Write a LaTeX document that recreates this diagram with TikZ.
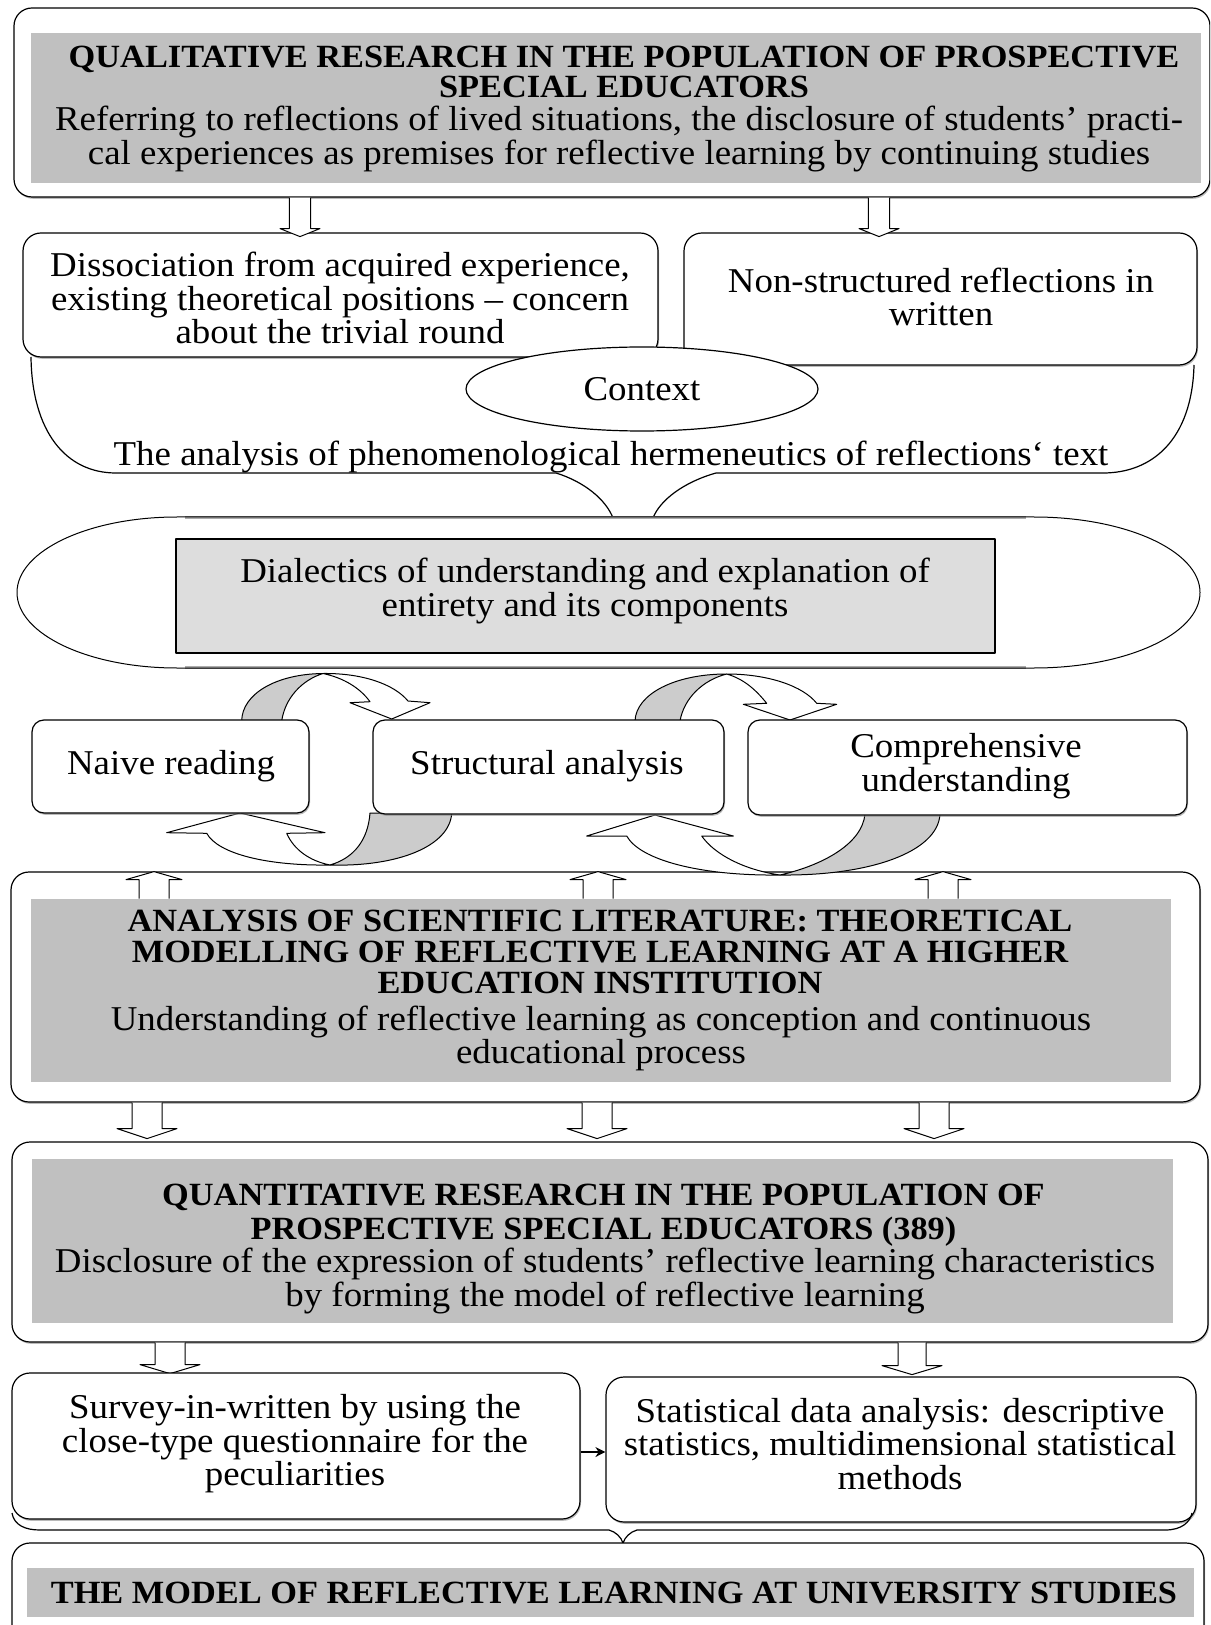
\documentclass[tikz,border=0pt]{standalone}
\usepackage{fontspec}
\setmainfont{Liberation Serif}[FakeStretch=1.06]
\usetikzlibrary{shapes.geometric,fit,arrows.meta,shadows}
\definecolor{boxgray}{RGB}{192,192,192}
\definecolor{dialgray}{RGB}{221,221,221}
\definecolor{cyclegray}{RGB}{204,204,204}
\tikzset{
  pics/dnarrow/.style args={#1/#2/#3/#4}{code={
    \path[barrow] (-#2,0) -- (-#2,#1-#4) -- (-#3,#1-#4) -- (0,#1) -- (#3,#1-#4) -- (#2,#1-#4) -- (#2,0);
  }},
  pics/uparrow/.style args={#1/#2/#3/#4}{code={
    \path[barrow] (-#2,0) -- (-#2,-#1+#4) -- (-#3,-#1+#4) -- (0,-#1) -- (#3,-#1+#4) -- (#2,-#1+#4) -- (#2,0);
  }},
}
\newcommand{\bodyfont}[1]{\fontsize{17.4}{#1}\selectfont\lineskiplimit=-50pt}
\newcommand{\ttlfont}[1]{\fontsize{16.2}{#1}\selectfont\bfseries\lineskiplimit=-50pt}
\begin{document}
\begin{tikzpicture}[x=0.5pt,y=-0.5pt, line join=round,
  shd/.style={drop shadow={shadow xshift=0.5pt, shadow yshift=-0.9pt, fill=black!45, opacity=0.6}},
  rbox/.style={draw=black, line width=0.6pt, rounded corners=9pt, inner sep=0pt, fill=white, shd},
  sbox/.style={draw=black, line width=0.6pt, rounded corners=6pt, inner sep=0pt, fill=white, shd},
  gbox/.style={fill=boxgray, draw=none, inner sep=0pt},
  txt/.style={align=center, inner sep=0pt, font=\bodyfont{16.75}},
  ttl/.style={align=center, inner sep=0pt, font=\ttlfont{14.5}},
  barrow/.style={draw=black, line width=0.5pt, fill=white},
  cyc/.style={draw=black, line width=0.5pt, fill=white},
  cycg/.style={draw=black, line width=0.5pt, fill=cyclegray},
  outline/.style={draw=black, line width=0.6pt},
]
\fill[white] (0,0) rectangle (1210,1625);
\useasboundingbox (0,0) rectangle (1210,1625);
\clip (0,0) rectangle (1210,1625);

% ---------- top box ----------
\node[rbox, fit={(14,8) (1210,197)}] (top) {};
\node[gbox, fit={(31,33) (1201,183)}] (topg) {};
\node[ttl, font=\ttlfont{15}] (toptitle) at (624,72) {QUALITATIVE RESEARCH IN THE POPULATION OF PROSPECTIVE\\SPECIAL EDUCATORS};
\node[txt, font=\bodyfont{17.25}] (topbody) at (619,139) {Referring to reflections of lived situations, the disclosure of students’ practi-\\cal experiences as premises for reflective learning by continuing studies};

% ---------- second row ----------
\node[rbox, fit={(23,233) (658,357)}] (diss) {};
\node[txt] (disst) at (340,298) {Dissociation from acquired experience,\\existing theoretical positions – concern\\about the trivial round};
\node[rbox, fit={(684,233) (1197,365)}] (nons) {};
\node[txt] (nonst) at (941,297) {Non-structured reflections in\\written};

\pic at (300,0 |- top.south) {dnarrow=39/10.7/20/8};
\pic at (879,0 |- top.south) {dnarrow=39/10.7/20/8};

% bracket under the two boxes
\coordinate (brL) at (31,357);
\coordinate (brR) at (1194,365);
\coordinate (neckL) at (613,518);
\coordinate (neckR) at (653,518);
\draw[outline] (brL) .. controls (32,432) and (66,473) .. (116,473) -- (556,473)
   .. controls (585,482) and (606,500) .. (neckL);
\draw[outline] (neckR) .. controls (660,500) and (684,482) .. (716,473) -- (1103,473)
   .. controls (1152,473) and (1192,440) .. (brR);

\node[ellipse, draw=black, line width=0.6pt, fill=white, minimum width=176pt, minimum height=42pt, inner sep=0pt,
      font=\bodyfont{16.75}] (ctx) at (642,389) {Context};
\node[txt] (anal) at (611,457) {The analysis of phenomenological hermeneutics of reflections‘ text};

% ---------- stadium ----------
\coordinate (stTL) at (177,517);
\coordinate (stTR) at (1034,517);
\fill[white] (stTL) -- (stTR)
  .. controls (1125.7,517) and (1200,550.8) .. (1200,592.5)
  .. controls (1200,634.2) and (1125.7,668) .. (1034,668)
  -- (177,668)
  .. controls (88.6,668) and (17,634.2) .. (17,592.5)
  .. controls (17,550.8) and (88.6,517) .. (stTL) -- cycle;
\draw[gray!65, line width=1.8pt] (185,517.5) -- (1026,517.5);
\draw[gray!65, line width=1.8pt] (185,667.5) -- (1026,667.5);
\draw[outline, line width=0.5pt] (stTL) -- (stTR)
  .. controls (1125.7,517) and (1200,550.8) .. (1200,592.5)
  .. controls (1200,634.2) and (1125.7,668) .. (1034,668)
  -- (177,668)
  .. controls (88.6,668) and (17,634.2) .. (17,592.5)
  .. controls (17,550.8) and (88.6,517) .. (stTL) -- cycle;
\node[draw=black, line width=0.9pt, fill=dialgray, inner sep=0pt, fit={(176,539) (995,653)}] (dial) {};
\node[txt] (dialt) at (585,591) {Dialectics of understanding and explanation of\\entirety and its components};

% ---------- analysis box (drawn before cycles) ----------
\node[rbox, fit={(11,872) (1200,1102)}] (ana) {};
\node[gbox, fit={(31,899) (1171,1082)}] (anag) {};
\node[ttl, font=\ttlfont{15.5}] (anatitle) at (600,952) {ANALYSIS OF SCIENTIFIC LITERATURE: THEORETICAL\\MODELLING OF REFLECTIVE LEARNING AT A HIGHER\\EDUCATION INSTITUTION};
\node[txt, font=\bodyfont{16.5}] (anabody) at (601,1038) {Understanding of reflective learning as conception and continuous\\educational process};
\pic at (154,0 |- anag.north) {uparrow=27/15/28/8};
\pic at (598,0 |- anag.north) {uparrow=27/15/28/8};
\pic at (943,0 |- anag.north) {uparrow=27/15/28/8};

% ---------- cycles ----------
% cycle 1
\draw[cycg] (241.7,721) .. controls (242,694) and (276,674) .. (323,673.5) .. controls (302,680) and (285,698) .. (281.7,721) -- cycle;
\draw[cyc] (323,673.5) .. controls (362,673) and (394,684) .. (408,701) -- (430,702.7) -- (391.7,719) -- (350,702.7) -- (370,701.7) .. controls (360,688) and (344,678) .. (323,673.5) -- cycle;
\draw[cycg] (451.7,813) .. controls (450,846) and (398,867) .. (330,865) .. controls (354,858) and (368,840) .. (370,813) -- cycle;
\draw[cyc] (330,865) .. controls (268,866) and (218,854) .. (206.7,833.3) -- (166.7,832.7) -- (240,813) -- (325,832.7) -- (286.7,833.3) .. controls (294,850) and (310,861) .. (330,865) -- cycle;
% cycle 2
\draw[cycg] (635,721) .. controls (636,694) and (675,674) .. (726.7,674) .. controls (703,680) and (684,698) .. (680,721) -- cycle;
\draw[cyc] (726.7,674) .. controls (768,674) and (803,686) .. (816.7,703.3) -- (836.7,704.3) -- (790,720) -- (743.3,704.3) -- (766.7,703.3) .. controls (756,690) and (744,679) .. (726.7,674) -- cycle;
\draw[cycg] (940,814) .. controls (938,852) and (870,876) .. (780,875) .. controls (820,866) and (862,845) .. (865,814) -- cycle;
\draw[cyc] (780,875) .. controls (700,876) and (640,860) .. (626.7,836) -- (586.7,836) -- (655,815) -- (733.3,836) -- (701.7,836) .. controls (715,855) and (745,870) .. (780,875) -- cycle;

% ---------- middle row ----------
\node[sbox, fit={(32,720) (309,813)}] (naive) {};
\node[txt] (naivet) at (171,766) {Naive reading};
\node[sbox, fit={(373,720) (724,814)}] (struc) {};
\node[txt] (struct) at (547,766) {Structural analysis};
\node[sbox, fit={(748,720) (1187,815)}] (comp) {};
\node[txt] (compt) at (966,766) {Comprehensive\\understanding};

% ---------- quantitative ----------
\pic at (147,0 |- ana.south) {dnarrow=36/15/30/10};
\pic at (597,0 |- ana.south) {dnarrow=36/15/30/10};
\pic at (934,0 |- ana.south) {dnarrow=36/15/30/10};
\node[rbox, fit={(12,1142) (1208,1342)}] (quan) {};
\node[gbox, fit={(32,1159) (1173,1323)}] (quang) {};
\node[ttl, font=\ttlfont{17}] (quantitle) at (603.5,1215) {QUANTITATIVE RESEARCH IN THE POPULATION OF\\PROSPECTIVE SPECIAL EDUCATORS (389)};
\node[txt, font=\bodyfont{17}] (quanbody) at (605,1281) {Disclosure of the expression of students’ reflective learning characteristics\\by forming the model of reflective learning};

% ---------- last row ----------
\pic at (170,0 |- quan.south) {dnarrow=31/15/30/9};
\pic at (912,0 |- quan.south) {dnarrow=32/14/30/9};
\node[rbox, fit={(12,1373) (580,1519)}] (surv) {};
\node[txt] (survt) at (295,1444) {Survey-in-written by using the\\close-type questionnaire for the\\peculiarities};
\node[rbox, fit={(606,1377) (1196,1522)}] (stat) {};
\node[txt] (statt) at (900,1444) {Statistical data analysis: descriptive\\statistics, multidimensional statistical\\methods};
\draw[line width=0.7pt, -{Stealth[length=5pt,width=5pt]}] (surv.east |- 0,1452) -- (stat.west |- 0,1452);

% bottom brace
\coordinate (bbL) at (12,1513);
\coordinate (bbR) at (1192,1513);
\draw[outline] (bbL) .. controls (14,1525) and (25,1530) .. (40,1530) -- (609,1530)
  .. controls (616,1532) and (621,1537) .. (623,1543)
  .. controls (625,1537) and (630,1532) .. (637,1530) -- (1165,1530)
  .. controls (1182,1530) and (1190,1522) .. (bbR);

% final box
\node[rbox, fit={(12,1543) (1204,1660)}] (model) {};
\node[gbox, fit={(27,1568) (1194,1617)}] (modelg) {};
\node[ttl] (modelt) at (614,1593) {THE MODEL OF REFLECTIVE LEARNING AT UNIVERSITY STUDIES};
\end{tikzpicture}
\end{document}
